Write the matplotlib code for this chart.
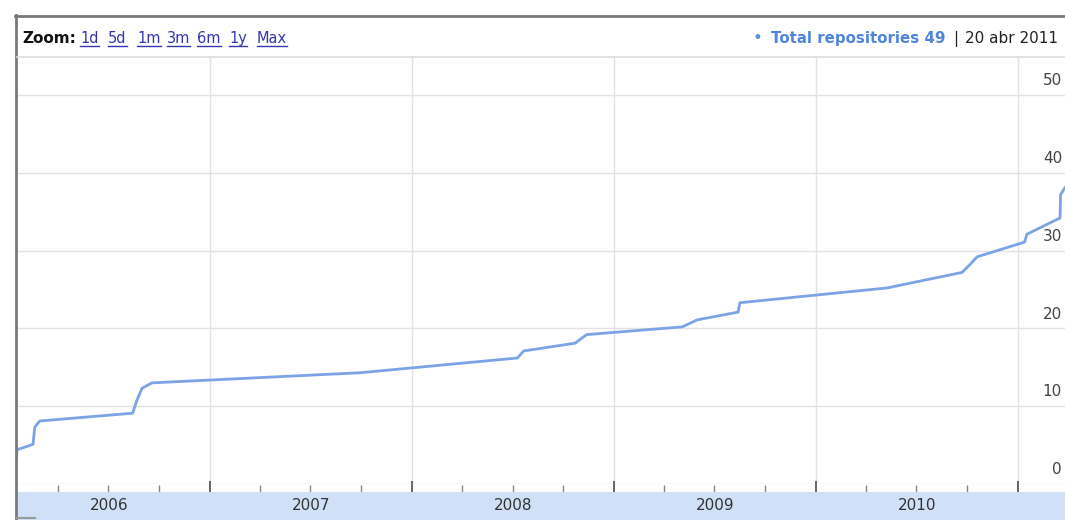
import pandas as pd
import matplotlib
matplotlib.use('Agg')
import matplotlib.pyplot as plt
from matplotlib.lines import Line2D

# Total repositories over time
dates = ['2006-01-16', '2006-01-17', '2006-02-15', '2006-02-18', '2006-02-27',
         '2006-08-14', '2006-08-22', '2006-08-31', '2006-09-18', '2007-09-29',
         '2008-07-10', '2008-07-21', '2008-10-22', '2008-11-12', '2009-05-04',
         '2009-05-31', '2009-08-13', '2009-08-16', '2010-05-09', '2010-09-22',
         '2010-10-06', '2010-10-19', '2011-01-13', '2011-01-17', '2011-03-18',
         '2011-03-19', '2011-03-27']
totals = [3.3, 4.4, 5.1, 7.3, 8.1,
          9.1, 10.8, 12.3, 13.0, 14.3,
          16.2, 17.1, 18.1, 19.2, 20.2,
          21.1, 22.1, 23.3, 25.2, 27.2,
          28.2, 29.2, 31.1, 32.1, 34.2,
          37.2, 38.1]

years = ['2006', '2007', '2008', '2009', '2010']
y_ticks = [0, 10, 20, 30, 40, 50]
zoom_links = ['1d', '5d', '1m', '3m', '6m', '1y', 'Max']
link_x = [80, 108, 137, 167, 197, 229, 257]

W, H = 1065, 520
LINE = '#7ba3e6'
GRID = '#e2e2e2'


def fx(px):
    return px / W


def fy(py):
    return 1 - py / H


fig = plt.figure(figsize=(W / 100, H / 100), dpi=100)
x_lo, x_hi = pd.Timestamp('2006-01-17'), pd.Timestamp('2011-03-27')
left, width = fx(17), fx(1065) - fx(17)

# main plot area
ax = fig.add_axes([left, fy(484), width, fy(58) - fy(484)])
for v in y_ticks:
    ax.axhline(v, color=GRID, lw=1, zorder=0)
for yr in range(2007, 2012):
    ax.axvline(pd.Timestamp(f'{yr}-01-01'), color=GRID, lw=1, zorder=0)
ax.plot(pd.to_datetime(dates), totals, color=LINE, lw=2, solid_joinstyle='round')
ax.set_xlim(x_lo, x_hi)
ax.set_ylim(0, 54.76)
ax.set_xticks([])
ax.set_yticks([])
for s in ax.spines.values():
    s.set_visible(False)
for v in y_ticks:
    ax.annotate(str(v), xy=(fx(1062), v), xycoords=('figure fraction', 'data'),
                xytext=(0, 7), textcoords='offset points', va='baseline',
                ha='right', fontsize=11, color='#444444')

# tick strip
tk = fig.add_axes([left, fy(492), width, fy(484) - fy(492)], sharex=ax)
tk.set_facecolor('white')
tk.set_xticks([pd.Timestamp(f'{yr}-01-01') for yr in range(2006, 2012)])
tk.set_xticks([pd.Timestamp(f'{yr}-{m:02d}-01') for yr in range(2006, 2012)
               for m in (4, 7, 10)], minor=True)
tk.tick_params(axis='x', which='major', direction='in', length=8, width=1.4,
               color='#666666', labelbottom=False)
tk.tick_params(axis='x', which='minor', direction='in', length=5, width=1,
               color='#888888')
tk.set_yticks([])
for s in tk.spines.values():
    s.set_visible(False)

# year band
band = fig.add_axes([left, 0, width, fy(492)], sharex=ax)
band.set_facecolor('#cfe0f7')
for yr in years:
    band.text(pd.Timestamp(f'{yr}-07-02'), 0.5, yr, ha='center', va='center',
              fontsize=11, color='#333333', transform=band.get_xaxis_transform())
band.set_yticks([])
band.tick_params(axis='x', which='both', length=0, labelbottom=False)
for s in band.spines.values():
    s.set_visible(False)
ax.set_xlim(x_lo, x_hi)

# frame and header
fig.add_artist(Line2D([fx(15), 1], [fy(15.5), fy(15.5)], color='#7a7a7a', lw=2))
fig.add_artist(Line2D([fx(15.5), fx(15.5)], [0, fy(15)], color='#7a7a7a', lw=2))
fig.add_artist(Line2D([fx(17), 1], [fy(57), fy(57)], color='#dddddd', lw=1.2))
fig.add_artist(Line2D([fx(17), fx(35)], [fy(518), fy(518)], color='#999999', lw=1.5))

fig.text(fx(22), fy(43), 'Zoom:', fontsize=11, fontweight='bold',
         color='#111111', va='baseline')
links = []
for lbl, px in zip(zoom_links, link_x):
    links.append(fig.text(fx(px), fy(43), lbl, fontsize=10.5, color='#3535b0',
                          va='baseline'))

fig.text(fx(753), fy(38), '\u2022', fontsize=12, color='#5a8ee0',
         va='center', ha='left')
fig.text(fx(771), fy(43), 'Total repositories 49', fontsize=10.8,
         fontweight='bold', color='#4f86dc', va='baseline')
fig.text(fx(953), fy(43), '|', fontsize=11, color='#222222', va='baseline')
fig.text(fx(965), fy(43), '20 abr 2011', fontsize=11, color='#222222',
         va='baseline')

# underline the zoom links
fig.canvas.draw()
r = fig.canvas.get_renderer()
for t in links:
    bb = t.get_window_extent(r)
    fig.add_artist(Line2D([bb.x0 / W, bb.x1 / W], [fy(45.5), fy(45.5)],
                          color='#3535b0', lw=1))

fig.savefig('out.png', dpi=100, facecolor='white')
